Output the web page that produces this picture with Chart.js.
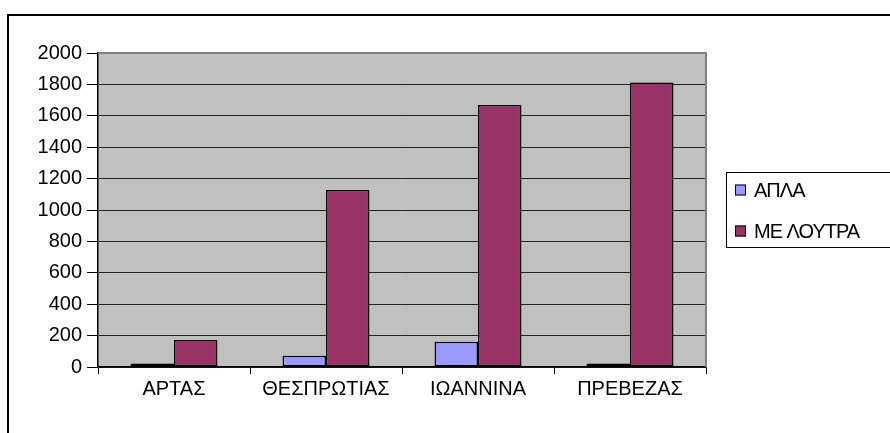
<!DOCTYPE html>
<html>
<head>
<meta charset="utf-8">
<script src="https://cdn.jsdelivr.net/npm/chart.js@4/dist/chart.umd.min.js"></script>
<style>
  html, body { margin: 0; padding: 0; background: #ffffff; }
  #wrap { position: relative; width: 890px; height: 433px; overflow: hidden; }
</style>
</head>
<body>
<div id="wrap"><canvas id="chart" width="890" height="433"></canvas></div>
<script>
// Prefectures (x categories)
const categories = ['ΑΡΤΑΣ', 'ΘΕΣΠΡΩΤΙΑΣ', 'ΙΩΑΝΝΙΝΑ', 'ΠΡΕΒΕΖΑΣ'];
// Series names
const seriesNames = ['ΑΠΛΑ', 'ΜΕ ΛΟΥΤΡΑ'];
// Series values
const aplaValues = [23, 72, 161, 23];
const loutraValues = [172, 1127, 1668, 1812];
// Value axis range and step
const yMin = 0;
const yMax = 2000;
const yStep = 200;

const FONT = "'Liberation Sans', Arial, sans-serif";

// Grey plot background, grey top/right frame and the outer chart frame
const framePlugin = {
  id: 'framePlugin',
  beforeDraw(chart) {
    const { ctx, chartArea: a } = chart;
    ctx.save();
    ctx.fillStyle = '#ffffff';
    ctx.fillRect(0, 0, chart.width, chart.height);
    ctx.fillStyle = '#c0c0c0';
    ctx.fillRect(a.left, a.top, a.right - a.left, a.bottom - a.top);
    // outer chart border
    ctx.strokeStyle = '#000000';
    ctx.lineWidth = 2;
    ctx.strokeRect(8, 15, chart.width + 20, chart.height + 20);
    ctx.restore();
  },
  beforeDatasetsDraw(chart) {
    const { ctx, chartArea: a } = chart;
    ctx.save();
    ctx.strokeStyle = '#808080';
    ctx.lineWidth = 2;
    ctx.beginPath();
    ctx.moveTo(a.left, a.top);
    ctx.lineTo(a.right, a.top);
    ctx.lineTo(a.right, a.bottom);
    ctx.stroke();
    ctx.restore();
  }
};

// Boxed legend on the right
const boxLegend = {
  id: 'boxLegend',
  afterDraw(chart) {
    const { ctx } = chart;
    const ds = chart.data.datasets;
    ctx.save();
    ctx.strokeStyle = '#000000';
    ctx.lineWidth = 1;
    ctx.strokeRect(726.5, 172.5, 220, 75);
    ctx.font = '20px ' + FONT;
    ctx.textBaseline = 'middle';
    ctx.textAlign = 'left';
    ctx.letterSpacing = '-1px';
    ds.forEach((d, i) => {
      const cy = 190 + i * 41;
      ctx.fillStyle = d.backgroundColor;
      ctx.fillRect(735, cy - 5.5, 11, 11);
      ctx.strokeStyle = '#000000';
      ctx.lineWidth = 1;
      ctx.strokeRect(735.5, cy - 5, 10, 10);
      ctx.fillStyle = '#000000';
      ctx.fillText(d.label, 754, cy + 1);
    });
    ctx.restore();
  }
};

new Chart(document.getElementById('chart'), {
  type: 'bar',
  data: {
    labels: categories,
    datasets: [
      {
        label: seriesNames[0],
        data: aplaValues,
        backgroundColor: '#9999ff',
        borderColor: '#000000',
        borderWidth: 1.5,
        borderSkipped: false
      },
      {
        label: seriesNames[1],
        data: loutraValues,
        backgroundColor: '#993366',
        borderColor: '#000000',
        borderWidth: 1.5,
        borderSkipped: false
      }
    ]
  },
  options: {
    responsive: false,
    animation: false,
    devicePixelRatio: 1,
    categoryPercentage: 0.572,
    barPercentage: 1,
    layout: { padding: { left: 20, top: 53, right: 184, bottom: 0 } },
    plugins: {
      legend: { display: false },
      tooltip: { enabled: false },
      title: { display: false }
    },
    scales: {
      x: {
        grid: {
          display: true,
          drawOnChartArea: false,
          drawTicks: true,
          tickLength: 7,
          tickColor: '#000000',
          tickWidth: 1
        },
        border: { display: true, color: '#000000', width: 1.5 },
        ticks: {
          color: '#000000',
          padding: 3,
          maxRotation: 0,
          font: { family: FONT, size: 20 }
        },
        afterFit(scale) { scale.height = 66; }
      },
      y: {
        min: yMin,
        max: yMax,
        grid: {
          color: '#222222',
          lineWidth: 1,
          drawTicks: true,
          tickLength: 11,
          tickColor: '#000000'
        },
        border: { display: true, color: '#000000', width: 1.5 },
        ticks: {
          stepSize: yStep,
          color: '#000000',
          padding: 5,
          font: { family: FONT, size: 20 },
          callback: (v) => String(v)
        },
        afterFit(scale) { scale.width = 78; }
      }
    }
  },
  plugins: [framePlugin, boxLegend]
});
</script>
</body>
</html>
